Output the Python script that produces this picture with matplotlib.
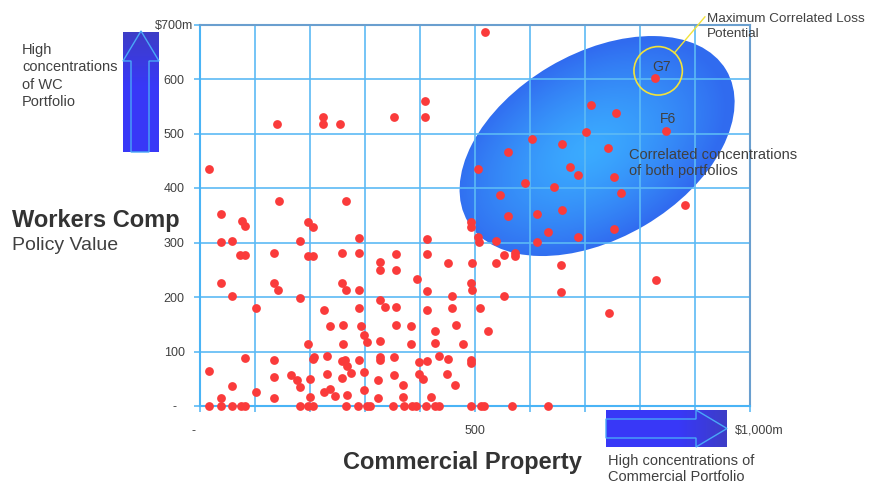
import numpy as np
import matplotlib
matplotlib.use("Agg")
import matplotlib.pyplot as plt
from matplotlib.patches import Ellipse, Polygon
from matplotlib import transforms

plt.rcParams["font.family"] = ["Liberation Sans", "DejaVu Sans"]

# Commercial property value (x, $m) and workers comp policy value (y, $m) per account
property_values = [
    140, 224, 224, 255, 16, 143, 266, 38, 518, 409, 409, 353,
    604, 658, 560, 505, 673, 687, 590, 644, 546, 658, 613, 560, 711, 756, 702, 742,
    753, 766, 882, 492, 492, 632, 687, 752, 505, 508, 539, 613, 552, 573, 573,
    829, 743, 656, 656, 494, 538, 492, 494, 459, 552, 458, 509, 465, 523, 479, 492, 492,
    463, 493, 510, 517, 568, 632,
    413, 357, 413, 450, 357, 394, 413, 336, 357, 413, 357, 384, 428, 384, 428, 353, 398,
    413, 435, 450, 353, 398, 406, 449, 369, 369, 420, 350, 371, 386, 393, 411, 427, 434,
    76, 82, 197, 205, 289, 38, 59, 181, 73, 82, 135, 197, 206, 259, 289, 327, 327, 38,
    135, 142, 259, 266, 289, 59, 181, 327, 102, 226, 289, 236, 260, 293, 298, 304, 327,
    196, 260, 82, 135, 205, 207, 230, 259, 264, 267, 289, 327, 327, 16, 135, 166, 176,
    182, 200, 230, 259, 274, 298, 323, 59, 102, 226, 236, 245, 267, 298, 323, 38, 135,
    200, 16, 38, 59, 74, 82, 181, 197, 205, 266, 287, 303, 309,
]
wc_values = [
    517, 531, 517, 518, 435, 377, 376, 352, 687, 560, 531, 531,
    489, 481, 466, 435, 439, 424, 410, 402, 387, 360, 352, 349, 552, 538, 503, 474,
    420, 390, 368, 338, 329, 319, 311, 325, 310, 301, 303, 301, 277, 281, 276,
    232, 171, 259, 210, 263, 263, 226, 212, 201, 201, 179, 179, 148, 137, 114, 85, 79,
    38, 0, 0, 0, 0, 0,
    307, 279, 279, 262, 250, 233, 211, 182, 182, 177, 149, 147, 138, 113, 115, 90, 80,
    83, 92, 87, 57, 58, 49, 58, 38, 16, 16, 0, 0, 0, 0, 0, 0, 0,
    339, 330, 338, 328, 309, 301, 303, 302, 277, 277, 281, 276, 276, 280, 280, 264, 249, 226,
    226, 213, 225, 212, 212, 201, 199, 194, 179, 177, 179, 147, 149, 147, 130, 117, 119,
    113, 114, 88, 84, 87, 90, 92, 83, 84, 74, 84, 90, 84, 64, 53, 57, 48,
    35, 50, 59, 51, 61, 62, 48, 37, 26, 26, 31, 19, 20, 29, 14, 14, 14,
    16, 0, 0, 0, 0, 0, 0, 0, 0, 0, 0, 0, 0,
]

# Named accounts
label_names = ["G7", "F6"]
label_x = [827, 848]
label_y = [601, 505]

x_ticks = list(range(0, 1001, 100))
x_tick_labels = ["-", "", "", "", "", "500", "", "", "", "", "$1,000m"]
y_ticks = list(range(0, 701, 100))
y_tick_labels = ["-", "100", "200", "300", "400", "500", "600", "$700m"]

# Correlation zone (centre, full axes, tilt) and loss circle
zone_center = (722, 477)
zone_size = (546, 339)
zone_angle = 30.8
loss_center = (833, 615)
loss_radius = 44

GRID = "#5cbaf5"
EDGE = "#6a9fcf"
TEXT = "#404040"
DOT = "#fa3b3b"

W, H = 886, 484
fig = plt.figure(figsize=(W / 100, H / 100), dpi=100)
ax = fig.add_axes([200 / W, (H - 406) / H, 550 / W, (406 - 24.5) / H])
ax.set_xlim(0, 1000)
ax.set_ylim(0, 700)

# gradient-filled correlation ellipse
ell = Ellipse(zone_center, zone_size[0], zone_size[1], angle=zone_angle,
              facecolor="none", edgecolor="none", zorder=0.5)
ax.add_patch(ell)
x0, x1 = zone_center[0] - 300, zone_center[0] + 300
y0, y1 = zone_center[1] - 240, zone_center[1] + 240
gx, gy = np.meshgrid(np.linspace(x0, x1, 400), np.linspace(y0, y1, 320))
fx, fy = zone_center[0] - 15, zone_center[1] - 8
th = np.deg2rad(zone_angle)
dx, dy = gx - fx, gy - fy
u = dx * np.cos(th) + dy * np.sin(th)
v = -dx * np.sin(th) + dy * np.cos(th)
r = np.sqrt((u / (zone_size[0] / 2)) ** 2 + (v / (zone_size[1] / 2)) ** 2)
t = np.clip(r, 0, 1) ** 1.4
c0 = np.array([0.23, 0.67, 1.0])
c1 = np.array([0.19, 0.42, 0.94])
img = c0[None, None, :] * (1 - t[..., None]) + c1[None, None, :] * t[..., None]
im = ax.imshow(img, extent=(x0, x1, y0, y1), origin="lower", aspect="auto",
               interpolation="bilinear", zorder=0.5)
im.set_clip_path(ell)
ax.set_xlim(0, 1000)
ax.set_ylim(0, 700)

# grid and frame
ax.set_axisbelow("line")
ax.grid(True, color=GRID, linewidth=1.2)
for side in ("left", "bottom"):
    ax.spines[side].set_color("#4ab4f6")
    ax.spines[side].set_linewidth(1.5)
for side in ("top", "right"):
    ax.spines[side].set_color(EDGE)
    ax.spines[side].set_linewidth(1.5)

ax.set_xticks(x_ticks)
ax.set_xticklabels(x_tick_labels)
ax.set_yticks(y_ticks)
ax.set_yticklabels(y_tick_labels)
ax.tick_params(axis="x", length=4, width=1.2, color=GRID, pad=9.5,
               labelsize=9, labelcolor=TEXT)
ax.tick_params(axis="y", length=4, width=1.2, color=GRID, pad=14.5,
               labelsize=9, labelcolor=TEXT)
for lab in ax.get_yticklabels():
    lab.set_horizontalalignment("center")
xl = ax.get_xticklabels()
xl[-1].set_horizontalalignment("left")
xl[-1].set_transform(xl[-1].get_transform() +
                     transforms.ScaledTranslation(-15 / 100, 0, fig.dpi_scale_trans))
xl[0].set_transform(xl[0].get_transform() +
                    transforms.ScaledTranslation(-6 / 100, 0, fig.dpi_scale_trans))

# accounts
ax.scatter(property_values, wc_values, s=40, c=DOT, linewidths=0, zorder=4, clip_on=False)
ax.scatter(label_x, label_y, s=40, c=DOT, linewidths=0, zorder=4, clip_on=False)
offsets = [(7, 11), (2, 12)]
for name, lx, ly, (ox, oy) in zip(label_names, label_x, label_y, offsets):
    ax.annotate(name, (lx, ly), xytext=(ox * 0.72, oy * 0.72), textcoords="offset points",
                ha="center", va="center", fontsize=10, color=TEXT, zorder=5)

# maximum loss circle with leader
circ = Ellipse(loss_center, 2 * loss_radius, 2 * loss_radius * 0.551 / 0.545,
               facecolor="none", edgecolor="#f2e23a", linewidth=1.2, zorder=5)
ax.add_patch(circ)
ang = np.deg2rad(48)
ax.plot([loss_center[0] + loss_radius * np.cos(ang), 918],
        [loss_center[1] + loss_radius * np.sin(ang), 714],
        color="#f2e23a", linewidth=1.0, zorder=5, clip_on=False)

# overlay in pixel space for arrows and captions
ov = fig.add_axes([0, 0, 1, 1], zorder=3)
ov.set_xlim(0, W)
ov.set_ylim(H, 0)
ov.axis("off")
ov.patch.set_alpha(0)

main_blue = np.array([0.22, 0.22, 0.97])
dark_blue = np.array([0.24, 0.24, 0.78])

# vertical arrow (darkens toward the tip)
n = 100
tv = np.clip((np.linspace(0, 1, n) - 0.55) / 0.45, 0, 1)
vgrad = main_blue[None, :] * (1 - tv[:, None]) + dark_blue[None, :] * tv[:, None]
ov.imshow(vgrad[:, None, :], extent=(123, 159, 152, 32), origin="lower",
          aspect="auto", interpolation="bilinear", zorder=1)
ov.add_patch(Polygon([(131, 152), (131, 61), (123, 61), (141, 31), (159, 61),
                      (149, 61), (149, 152)], closed=True, facecolor="none",
                     edgecolor="#4aa8f8", linewidth=1.0, zorder=2))

# horizontal arrow (darkens toward the tip)
th_ = np.clip((np.linspace(0, 1, n) - 0.6) / 0.4, 0, 1)
hgrad = main_blue[None, :] * (1 - th_[:, None]) + dark_blue[None, :] * th_[:, None]
ov.imshow(hgrad[None, :, :], extent=(606, 727, 447, 410), aspect="auto",
          interpolation="bilinear", zorder=1)
ov.add_patch(Polygon([(606, 419), (696, 419), (696, 410), (727, 428.5), (696, 447),
                      (696, 438), (606, 438)], closed=True, facecolor="none",
                     edgecolor="#4aa8f8", linewidth=1.0, zorder=2))
ov.set_xlim(0, W)
ov.set_ylim(H, 0)

ov.text(22, 76, "High\nconcentrations\nof WC\nPortfolio", ha="left", va="center",
        fontsize=10.5, color=TEXT, linespacing=1.33)
ov.text(12, 220, "Workers Comp", ha="left", va="center", fontsize=17,
        fontweight="bold", color="#333333")
ov.text(12, 245, "Policy Value", ha="left", va="center", fontsize=14, color=TEXT)
ov.text(462, 463, "Commercial Property", ha="center", va="center", fontsize=17,
        fontweight="bold", color="#333333")
ov.text(608, 469, "High concentrations of\nCommercial Portfolio", ha="left", va="center",
        fontsize=10.5, color=TEXT, linespacing=1.25)
ov.text(707, 26.5, "Maximum Correlated Loss\nPotential", ha="left", va="center",
        fontsize=9.7, color=TEXT, linespacing=1.35)
ov.text(629, 163, "Correlated concentrations\nof both portfolios", ha="left",
        va="center", fontsize=10.5, color=TEXT, linespacing=1.25)

fig.savefig("out.png", dpi=100)
